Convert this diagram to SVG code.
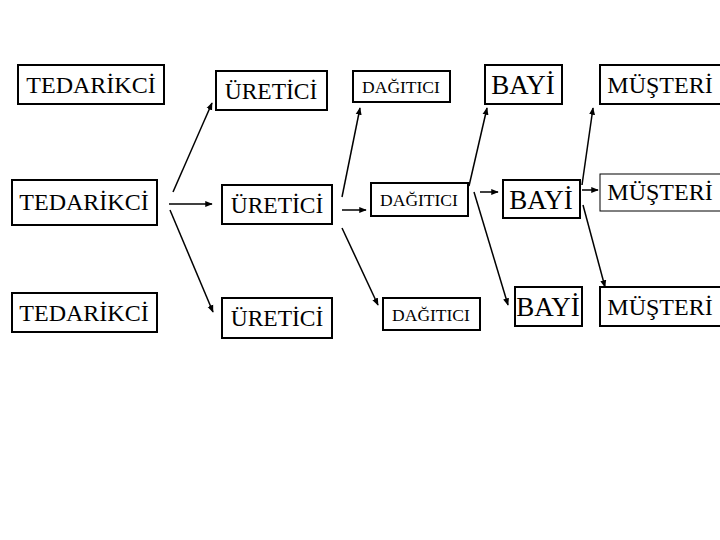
<svg xmlns="http://www.w3.org/2000/svg" width="720" height="540" viewBox="0 0 720 540">
<defs><marker id="a" viewBox="0 0 10 10" refX="9" refY="5" markerWidth="5" markerHeight="5" orient="auto"><path d="M0,1 L10,5 L0,9 z" fill="#000"/></marker></defs>
<style>
rect{fill:#fff;stroke:#000;stroke-width:2}
text{font-family:"Liberation Serif","Times New Roman",serif;fill:#000;text-anchor:middle;dominant-baseline:central}
.t{font-size:24px}.d{font-size:17.5px}.b{font-size:27px}.u{font-size:23.5px}
#c line{stroke:#000;stroke-width:1.5;marker-end:url(#a)}
</style>
<rect width="720" height="540" style="stroke:none"/>
<g id="t1"><rect x="18" y="65" width="146" height="39"/><text class="t" x="91" y="85">TEDARİKCİ</text></g>
<g id="t2"><rect x="12" y="180" width="145" height="45"/><text class="t" x="84" y="202">TEDARİKCİ</text></g>
<g id="t3"><rect x="12" y="293" width="145" height="39"/><text class="t" x="84" y="313">TEDARİKCİ</text></g>
<g id="u1"><rect x="216" y="71" width="111" height="39"/><text class="u" x="271" y="91">ÜRETİCİ</text></g>
<g id="u2"><rect x="222" y="185" width="110" height="39"/><text class="u" x="277" y="205">ÜRETİCİ</text></g>
<g id="u3"><rect x="222" y="298" width="110" height="40"/><text class="u" x="277" y="318">ÜRETİCİ</text></g>
<g id="d1"><rect x="353" y="71" width="97" height="31"/><text class="d" x="401" y="87">DAĞITICI</text></g>
<g id="d2"><rect x="371" y="183" width="97" height="33"/><text class="d" x="419" y="200">DAĞITICI</text></g>
<g id="d3"><rect x="383" y="298" width="97" height="32"/><text class="d" x="431" y="315">DAĞITICI</text></g>
<g id="b1"><rect x="485" y="65" width="77" height="39"/><text class="b" x="523" y="85">BAYİ</text></g>
<g id="b2"><rect x="503" y="180" width="77" height="38"/><text class="b" x="541" y="200">BAYİ</text></g>
<g id="b3"><rect x="515" y="287" width="67" height="39"/><text class="b" x="548" y="307">BAYİ</text></g>
<g id="m1"><rect x="600" y="65" width="122" height="39"/><text class="t" x="660" y="85">MÜŞTERİ</text></g>
<g id="m2"><rect x="600" y="174" width="122" height="37" style="stroke-width:1"/><text class="t" x="660" y="192">MÜŞTERİ</text></g>
<g id="m3"><rect x="600" y="287" width="122" height="39"/><text class="t" x="660" y="307">MÜŞTERİ</text></g>
<g id="c">
<line x1="173" y1="192" x2="212" y2="103"/>
<line x1="169" y1="204" x2="212" y2="204"/>
<line x1="170" y1="210" x2="213" y2="312"/>
<line x1="342" y1="197" x2="360" y2="108"/>
<line x1="342" y1="210" x2="366" y2="210"/>
<line x1="342" y1="228" x2="378" y2="305"/>
<line x1="469" y1="186" x2="487" y2="108"/>
<line x1="480" y1="192" x2="498" y2="192"/>
<line x1="474" y1="192" x2="508" y2="305"/>
<line x1="582" y1="185" x2="593" y2="108"/>
<line x1="582" y1="190" x2="598" y2="190"/>
<line x1="583" y1="205" x2="605" y2="287"/>
</g>
</svg>
